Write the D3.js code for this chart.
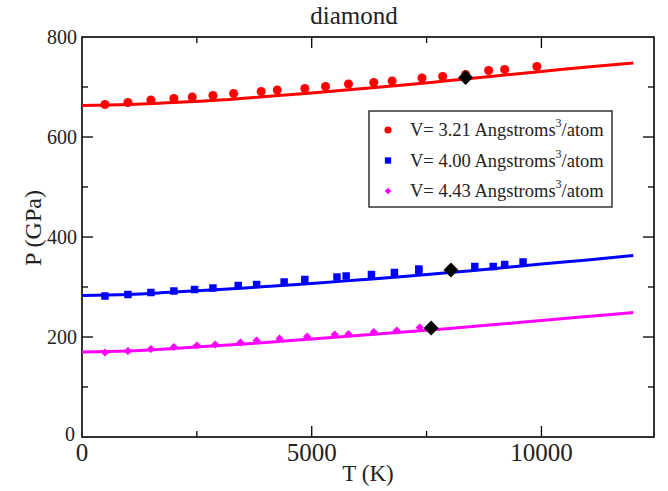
<!DOCTYPE html>
<html>
<head>
<meta charset="utf-8">
<script src="https://cdn.jsdelivr.net/npm/d3@7"></script>
<style>
  body { margin: 0; background: #fff; }
  svg text { font-family: "Liberation Serif", "Times New Roman", serif; fill: #222; }
</style>
</head>
<body>
<script>
// data
var red_T = [500, 1000, 1500, 2000, 2400, 2850, 3300, 3900, 4250, 4850, 5300, 5800, 6350, 6750, 7400, 7850, 8350, 8850, 9200, 9900];
var red_P = [665, 669, 674, 677, 680, 683, 687, 691, 694, 697, 701, 706, 709, 712, 718, 721, 725, 733, 735, 741];
var blue_T = [500, 1000, 1500, 2000, 2450, 2850, 3400, 3800, 4400, 4850, 5550, 5750, 6300, 6800, 7330, 7330, 8550, 8950, 9200, 9600];
var blue_P = [282, 285, 289, 292, 295, 298, 303, 305, 310, 315, 320, 322, 325, 329, 333, 336, 341, 341, 345, 350];
var mag_T = [500, 1000, 1500, 2000, 2500, 2900, 3450, 3800, 4300, 4900, 5500, 5800, 6350, 6850, 7350];
var mag_P = [169, 172, 176, 180, 183, 185, 189, 193, 197, 201, 205, 206, 210, 213, 219];

// fitted curves
var fit_T = [0, 1000, 2000, 3000, 4000, 5000, 6000, 7000, 8000, 9000, 10000, 11000, 12000];
var red_fit = [663, 665, 669, 674, 681, 688, 696, 704, 713, 722, 731, 740, 748];
var blue_fit = [283, 285, 290, 295, 301, 307, 314, 321, 329, 337, 346, 354, 363];
var mag_fit = [170, 172, 177, 183, 189, 196, 203, 210, 217, 225, 233, 241, 249];

// black diamonds
var mark_T = [8350, 8030, 7600];
var mark_P = [719, 334, 218];

var legend_labels = ["V= 3.21 Angstroms", "V= 4.00 Angstroms", "V= 4.43 Angstroms"];
var xticks = [0, 5000, 10000];
var yticks = [0, 200, 400, 600, 800];

var width = 668, height = 491;
var margin = {left: 82, right: 14, top: 37, bottom: 54};

var svg = d3.select('body').append('svg')
    .attr('width', width)
    .attr('height', height);

var x = d3.scaleLinear().domain([0, 12450]).range([margin.left, width - margin.right]);
var y = d3.scaleLinear().domain([0, 800]).range([height - margin.bottom, margin.top]);

var x0 = x.range()[0], x1 = x.range()[1], y0 = y.range()[0], y1 = y.range()[1];

// ticks on all four sides, pointing inward
function ticks(axis, vals, len) {
  var g = svg.append('g').attr('stroke', '#000').attr('stroke-width', 1.3);
  vals.forEach(function(v) {
    if (axis == 'x') {
      g.append('line').attr('x1', x(v)).attr('x2', x(v)).attr('y1', y0).attr('y2', y0 - len);
      g.append('line').attr('x1', x(v)).attr('x2', x(v)).attr('y1', y1).attr('y2', y1 + len);
    } else {
      g.append('line').attr('y1', y(v)).attr('y2', y(v)).attr('x1', x0).attr('x2', x0 + len);
      g.append('line').attr('y1', y(v)).attr('y2', y(v)).attr('x1', x1).attr('x2', x1 - len);
    }
  });
}
ticks('x', d3.range(2500, 12450, 5000), 6);
ticks('x', xticks.slice(1), 11);
ticks('y', d3.range(100, 800, 200), 6);
ticks('y', yticks.slice(1, 4), 11);

svg.append('rect')
    .attr('x', x0).attr('y', y1)
    .attr('width', x1 - x0).attr('height', y0 - y1)
    .attr('fill', 'none').attr('stroke', '#000').attr('stroke-width', 1.6);

// tick labels
svg.selectAll('.xl').data(xticks).enter().append('text')
    .attr('x', function(d) { return x(d); })
    .attr('y', 461)
    .attr('text-anchor', 'middle')
    .attr('font-size', 25)
    .text(function(d) { return d; });

svg.selectAll('.yl').data(yticks).enter().append('text')
    .attr('x', function(d) { return d == 0 ? 75 : 77; })
    .attr('y', function(d) { return d == 0 ? y(d) + 4 : y(d) + 7; })
    .attr('text-anchor', 'end')
    .attr('font-size', 20)
    .text(function(d) { return d; });

// titles
svg.append('text').attr('x', 354).attr('y', 24).attr('text-anchor', 'middle')
    .attr('font-size', 25).text('diamond');
svg.append('text').attr('x', 368).attr('y', 481).attr('text-anchor', 'middle')
    .attr('font-size', 23).text('T (K)');
svg.append('text').attr('transform', 'translate(41,228) rotate(-90)').attr('text-anchor', 'middle')
    .attr('font-size', 24).text('P (GPa)');

// fit lines
var line = d3.line().curve(d3.curveMonotoneX)
    .x(function(d) { return x(d[0]); })
    .y(function(d) { return y(d[1]); });

// diamonds here are squares turned by 45 degrees
var series = [
  {T: red_T, P: red_P, fit: red_fit, color: '#ff0000', sym: d3.symbolCircle, size: 64, rot: 0},
  {T: blue_T, P: blue_P, fit: blue_fit, color: '#0000ff', sym: d3.symbolSquare, size: 56, rot: 0},
  {T: mag_T, P: mag_P, fit: mag_fit, color: '#ff00ff', sym: d3.symbolSquare, size: 34, rot: 45}
];

series.forEach(function(s) {
  svg.append('path')
     .datum(d3.zip(fit_T, s.fit))
     .attr('d', line)
     .attr('fill', 'none')
     .attr('stroke', s.color)
     .attr('stroke-width', 3);
});

series.forEach(function(s) {
  svg.selectAll(null).data(d3.zip(s.T, s.P)).enter().append('path')
     .attr('transform', function(d) { return 'translate(' + x(d[0]) + ',' + y(d[1]) + ') rotate(' + s.rot + ')'; })
     .attr('d', d3.symbol().type(s.sym).size(s.size))
     .attr('fill', s.color);
});

svg.selectAll(null).data(d3.zip(mark_T, mark_P)).enter().append('path')
   .attr('transform', function(d) { return 'translate(' + x(d[0]) + ',' + y(d[1]) + ') rotate(45)'; })
   .attr('d', d3.symbol().type(d3.symbolSquare).size(110))
   .attr('fill', '#000');

// legend
var lg = svg.append('g');
lg.append('rect').attr('x', 369).attr('y', 111).attr('width', 243).attr('height', 96)
  .attr('fill', '#fff').attr('stroke', '#333').attr('stroke-width', 1.5);
var lsize = [40, 40, 22];
legend_labels.forEach(function(lbl, i) {
  var ly = 130 + i * 30.5;
  lg.append('path')
    .attr('transform', 'translate(388,' + ly + ') rotate(' + series[i].rot + ')')
    .attr('d', d3.symbol().type(series[i].sym).size(lsize[i]))
    .attr('fill', series[i].color);
  var t = lg.append('text').attr('x', 410).attr('y', ly + 6).attr('font-size', 18.5);
  t.append('tspan').text(lbl);
  t.append('tspan').attr('dy', -9).attr('font-size', 12).text('3');
  t.append('tspan').attr('dy', 9).text('/atom');
});
</script>
</body>
</html>
